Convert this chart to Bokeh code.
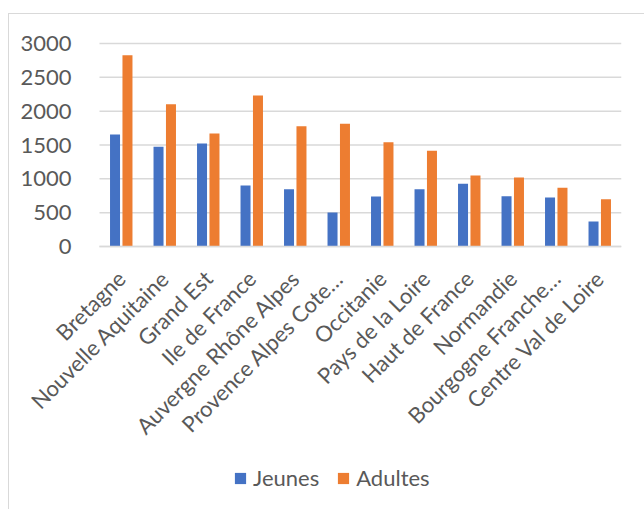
from bokeh.plotting import figure
from bokeh.models import Range1d, FixedTicker, ColumnDataSource, Legend, LegendItem
from bokeh.embed import file_html
from bokeh.resources import INLINE
import math

regions = ["Bretagne", "Nouvelle Aquitaine", "Grand Est", "Ile de France",
           "Auvergne Rhône Alpes", "Provence Alpes Cote…", "Occitanie",
           "Pays de la Loire", "Haut de France", "Normandie",
           "Bourgogne Franche…", "Centre Val de Loire"]
jeunes = [1655, 1473, 1522, 901, 847, 502, 739, 847, 926, 744, 724, 369]
adultes = [2828, 2103, 1670, 2232, 1778, 1813, 1542, 1414, 1049, 1020, 867, 700]
y_ticks = [0, 500, 1000, 1500, 2000, 2500, 3000]

FONT = "Lato"
GREY = "#595959"
GRID = "#d9d9d9"
FS = "22px"

n = len(regions)
idx = list(range(n))
DODGE = 0.143
BAR_W = 0.23

# layout (page pixels): plot area x 98..620, value 0 at y=245, 3000 at y=42
cat_px = (620 - 98) / n
x_start = -0.5 - (98 - 9) / cat_px
x_end = n - 0.5
unit_per_px = 3000 / 203.0
y_start = -(495 - 245) * unit_per_px
y_end = (245 - 15) * unit_per_px

src = ColumnDataSource(data=dict(
    xj=[i - DODGE for i in idx], xa=[i + DODGE for i in idx],
    jeunes=jeunes, adultes=adultes))

p = figure(x_range=Range1d(x_start, x_end), y_range=Range1d(y_start, y_end),
           width=636, height=496, output_backend="svg", toolbar_location=None,
           min_border_left=1, min_border_right=24, min_border_top=2,
           min_border_bottom=14)
p.margin = (13, 0, 0, 8)
p.styles = {"border-top": "1px solid #d9d9d9", "border-left": "1px solid #d9d9d9"}
p.outline_line_color = None
p.background_fill_color = "white"
p.border_fill_color = "white"

# horizontal gridlines limited to the plot area
p.segment(x0=-0.5, x1=n - 0.5, y0=y_ticks, y1=y_ticks,
          line_color=GRID, line_width=1.5)

r1 = p.vbar(x="xj", top="jeunes", width=BAR_W, source=src,
            fill_color="#4472C4", line_color=None)
r2 = p.vbar(x="xa", top="adultes", width=BAR_W, source=src,
            fill_color="#ED7D31", line_color=None)

p.xgrid.grid_line_color = None
p.ygrid.grid_line_color = None

p.yaxis.fixed_location = -0.5
p.yaxis.ticker = FixedTicker(ticks=y_ticks)
p.yaxis.axis_line_color = None
p.yaxis.major_tick_line_color = None
p.yaxis.minor_tick_line_color = None
p.yaxis.major_label_standoff = 22
p.yaxis.major_label_text_font = FONT
p.yaxis.major_label_text_font_size = FS
p.yaxis.major_label_text_color = GREY

p.xaxis.fixed_location = 0
p.xaxis.bounds = (-0.5, n - 0.5)
p.xaxis.ticker = FixedTicker(ticks=idx)
p.xaxis.major_label_overrides = {i: name for i, name in zip(idx, regions)}
p.xaxis.axis_line_color = GRID
p.xaxis.axis_line_width = 1.5
p.xaxis.major_tick_line_color = None
p.xaxis.minor_tick_line_color = None
p.xaxis.major_label_orientation = math.pi / 4
p.xaxis.major_label_standoff = 22
p.xaxis.major_label_text_font = FONT
p.xaxis.major_label_text_font_size = FS
p.xaxis.major_label_text_color = GREY

legend = Legend(items=[LegendItem(label="Jeunes", renderers=[r1]),
                       LegendItem(label="Adultes", renderers=[r2])],
                location=(223, 5), orientation="horizontal",
                padding=0, margin=0, spacing=17, label_standoff=6,
                glyph_width=14, glyph_height=14,
                label_text_font=FONT, label_text_font_size=FS,
                label_text_color=GREY, border_line_color=None,
                background_fill_alpha=0)
p.add_layout(legend, "center")

open("out.html", "w").write(file_html(p, INLINE))
